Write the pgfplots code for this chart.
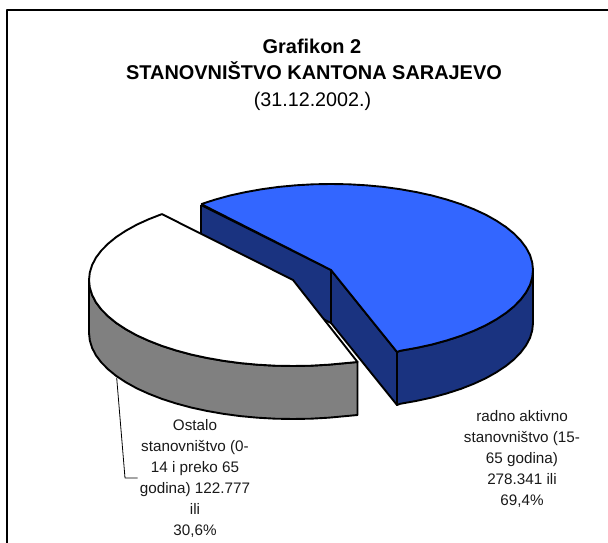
\documentclass[border=0pt]{standalone}
\usepackage{pgfplots}
\pgfplotsset{compat=1.18}
\usepackage{fontspec}
\setmainfont{Liberation Sans}
\definecolor{pieblue}{HTML}{3366FF}
\definecolor{piedark}{HTML}{1A3380}
\definecolor{piegrey}{HTML}{808080}
\begin{document}
\begin{tikzpicture}[x=1bp,y=1bp]
\path[use as bounding box] (0,0) rectangle (608,543);
\begin{axis}[
  at={(0,0)},anchor=south west,
  width=608bp,height=543bp,scale only axis,
  xmin=0,xmax=608,ymin=0,ymax=543,y dir=reverse,
  hide axis,clip=false,
  every axis plot/.append style={no markers,line join=round,solid},
]
% frame
\addplot[black,line width=2bp] coordinates {(7,543) (7,10) (608,10)};
% blue slice: back cut face
\addplot[fill=piedark,draw=black,line width=1.9bp] coordinates {(201,205) (331,270) (331,323) (201,258) (201,205)};
% blue slice: front cut face
\addplot[fill=piedark,draw=black,line width=1.9bp] coordinates {(331,270) (397,352) (397,405) (331,323) (331,270)};
% blue slice: outer wall
\addplot[fill=piedark,draw=black,line width=1.9bp] coordinates {
 (533,270) (532.2,277.5) (530,284.9) (526.1,292.3) (520.8,299.4) (514,306.4) (505.9,313) (496.4,319.3) (485.7,325.3)
 (473.8,330.8) (460.8,335.9) (446.9,340.4) (432,344.5) (416.4,347.9) (400.1,350.8) (397,352)
 (397,405) (400.1,403.8) (416.4,400.9) (432,397.5) (446.9,393.4) (460.8,388.9) (473.8,383.8) (485.7,378.3) (496.4,372.3)
 (505.9,366) (514,359.4) (520.8,352.4) (526.1,345.3) (530,337.9) (532.2,330.5) (533,323) (533,270)};
% blue slice: top
\addplot[fill=pieblue,draw=black,line width=1.9bp] coordinates {
 (201.2,204.1) (215.1,199.6) (230,195.5) (245.6,192.1) (261.9,189.2) (278.7,186.9) (295.9,185.3) (313.4,184.3) (331,184)
 (348.6,184.3) (366.1,185.3) (383.3,186.9) (400.1,189.2) (416.4,192.1) (432,195.5) (446.9,199.6) (460.8,204.1)
 (473.8,209.2) (485.7,214.7) (496.4,220.7) (505.9,227) (514,233.6) (520.8,240.6) (526.1,247.7) (530,255.1) (532.2,262.5)
 (533,270) (532.2,277.5) (530,284.9) (526.1,292.3) (520.8,299.4) (514,306.4) (505.9,313) (496.4,319.3) (485.7,325.3)
 (473.8,330.8) (460.8,335.9) (446.9,340.4) (432,344.5) (416.4,347.9) (400.1,350.8) (397,352) (331,270) (201.2,204.1)};
% white slice: outer wall
\addplot[fill=piegrey,draw=black,line width=1.9bp] coordinates {
 (89,280) (89.8,287.5) (92.1,294.9) (95.9,302.3) (101.3,309.4) (108.2,316.4) (116.3,323) (125.9,329.3) (136.7,335.3)
 (148.8,340.8) (161.9,345.9) (175.9,350.4) (191,354.5) (206.7,357.9) (223.2,360.8) (240.2,363.1) (257.6,364.7)
 (275.2,365.7) (293,366) (310.8,365.7) (328.4,364.7) (345.8,363.1) (357.5,362)
 (357.5,415) (345.8,416.1) (328.4,417.7) (310.8,418.7) (293,419) (275.2,418.7) (257.6,417.7) (240.2,416.1) (223.2,413.8)
 (206.7,410.9) (191,407.5) (175.9,403.4) (161.9,398.9) (148.8,393.8) (136.7,388.3) (125.9,382.3) (116.3,376) (108.2,369.4)
 (101.3,362.4) (95.9,355.3) (92.1,347.9) (89.8,340.5) (89,333) (89,280)};
% white slice: top
\addplot[fill=white,draw=black,line width=1.9bp] coordinates {
 (161.9,214.1) (148.8,219.2) (136.7,224.7) (125.9,230.7) (116.3,237) (108.2,243.6) (101.3,250.6) (95.9,257.7) (92.1,265.1)
 (89.8,272.5) (89,280) (89.8,287.5) (92.1,294.9) (95.9,302.3) (101.3,309.4) (108.2,316.4) (116.3,323) (125.9,329.3)
 (136.7,335.3) (148.8,340.8) (161.9,345.9) (175.9,350.4) (191,354.5) (206.7,357.9) (223.2,360.8) (240.2,363.1)
 (257.6,364.7) (275.2,365.7) (293,366) (310.8,365.7) (328.4,364.7) (345.8,363.1) (357.5,362) (293,280) (161.9,214.1)};
% leader line
\addplot[black,line width=0.8bp] coordinates {(116.7,378) (125,478) (137.7,478)};
% title
\node[anchor=base,font=\fontsize{20}{22}\selectfont\bfseries] at (axis cs:312,53.5) {Grafikon 2};
\node[anchor=base,font=\fontsize{20}{22}\selectfont\bfseries] at (axis cs:314,80) {STANOVNIŠTVO KANTONA SARAJEVO};
\node[anchor=base,font=\fontsize{19.8}{22}\selectfont] at (axis cs:312.5,106.7) {(31.12.2002.)};
% labels
\begin{scope}[every node/.style={anchor=base,font=\fontsize{15.3}{18}\selectfont,text=black!90}]
\node at (axis cs:195,430.7) {Ostalo};
\node at (axis cs:195,451.7) {stanovništvo (0-};
\node at (axis cs:195,472.7) {14 i preko 65};
\node at (axis cs:195,493) {godina) 122.777};
\node at (axis cs:195,514) {ili};
\node at (axis cs:195,535) {30,6\%};
\node at (axis cs:522,421) {radno aktivno};
\node at (axis cs:522,442) {stanovništvo (15-};
\node at (axis cs:522,463) {65 godina)};
\node at (axis cs:522,484) {278.341 ili};
\node at (axis cs:522,505) {69,4\%};
\end{scope}
% the reference cuts these two lines off at the right
\fill[white] (axis cs:500.7,62) rectangle (axis cs:510,84);
\fill[white] (axis cs:580,428) rectangle (axis cs:590,446);
\end{axis}
\end{tikzpicture}
\end{document}
